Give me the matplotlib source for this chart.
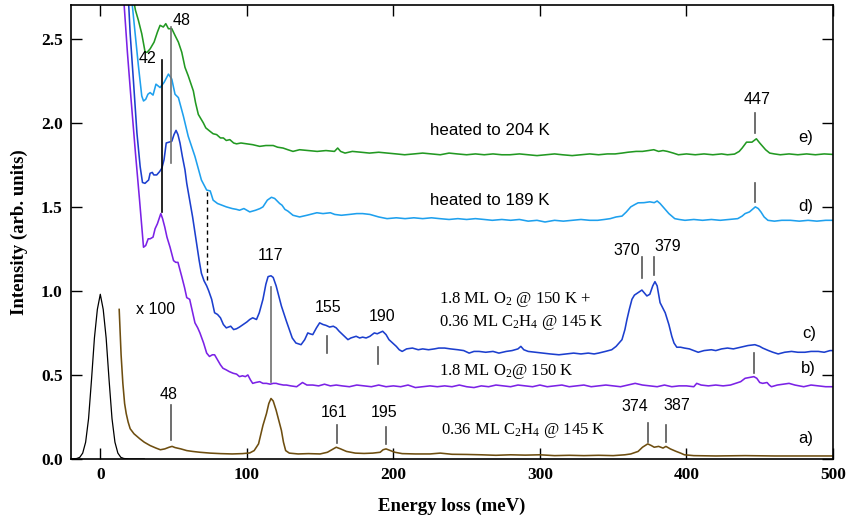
import numpy as np
import matplotlib
matplotlib.use('Agg')
import matplotlib.pyplot as plt

plt.rcParams['mathtext.fontset'] = 'custom'
plt.rcParams['mathtext.rm'] = 'Liberation Serif'
plt.rcParams['mathtext.it'] = 'Liberation Serif:italic'

SANS = 'Liberation Sans'
SERIF = 'Liberation Serif'

# elastic peak
el_x = [-20, -16, -14, -12, -10, -8, -6, -4, -2, 0, 2, 4, 6, 8, 10, 12, 14, 16, 20, 30]
el_y = [0.0, 0.003, 0.01, 0.035, 0.10, 0.24, 0.47, 0.72, 0.89, 0.98, 0.89, 0.72, 0.47, 0.24, 0.10, 0.035, 0.01, 0.003, 0.0, 0.0]

# a) 0.36 ML C2H4 @ 145 K (x 100)
a_x = [12.9, 14.2, 15.4, 16.6, 17.7, 19, 20.4, 23, 27, 30, 34, 38, 41, 44, 47, 49, 51, 55, 59, 63, 68, 75, 82, 90,
       97, 102, 105, 108, 111, 113.4, 115, 116.5, 118, 120, 121.5, 123.6, 125, 126.5, 129, 135, 142, 150, 155, 158,
       161, 164, 168, 174, 180, 186, 191, 193, 195, 198, 201, 206, 215, 225, 232, 240, 250, 260, 270, 280, 290, 300,
       310, 320, 330, 340, 350, 358, 362, 367, 370, 373.6, 376, 378, 381, 384, 386, 389, 393, 396, 398.6, 405, 420,
       440, 460, 480, 500]
a_y = [0.89, 0.62, 0.45, 0.33, 0.27, 0.22, 0.18, 0.15, 0.12, 0.10, 0.08, 0.065, 0.055, 0.06, 0.07, 0.075, 0.068, 0.06,
       0.05, 0.045, 0.04, 0.035, 0.032, 0.03, 0.032, 0.036, 0.05, 0.09, 0.2, 0.27, 0.33, 0.36, 0.345, 0.29, 0.24, 0.17,
       0.1, 0.05, 0.035, 0.03, 0.032, 0.03, 0.04, 0.055, 0.07, 0.06, 0.045, 0.035, 0.033, 0.035, 0.04, 0.055, 0.06,
       0.05, 0.04, 0.032, 0.03, 0.03, 0.035, 0.028, 0.027, 0.025, 0.022, 0.025, 0.023, 0.025, 0.02, 0.022, 0.02,
       0.022, 0.02, 0.025, 0.03, 0.045, 0.07, 0.09, 0.08, 0.07, 0.075, 0.065, 0.075, 0.06, 0.045, 0.035, 0.025, 0.02,
       0.018, 0.02, 0.018, 0.018, 0.018]

# b) 1.8 ML O2 @ 150 K
b_x = [15.5, 16.3, 18.5, 21, 24, 26.8, 28.5, 29.5, 31, 32.7, 34, 36, 37.4, 39, 40.5, 41.3, 42.5, 44, 45.5, 47.6, 50,
       51.5, 53, 55.6, 57.5, 59, 60, 61, 62.8, 64.6, 66.5, 68, 70.5, 72.6, 74.5, 76.5, 78, 80, 82, 83.7, 86, 88, 90.7,
       93, 95, 97, 99, 100.7, 102.5, 104, 106, 108.8, 111, 113.4, 116, 118, 120, 122, 125, 127, 130, 134, 138, 141,
       145, 149, 153, 157, 161, 165, 170, 175, 180, 185, 190, 195, 200, 205, 210, 215, 220, 225, 230, 235, 240, 245,
       250, 255, 260, 265, 270, 275, 280, 285, 290, 295, 300, 305, 310, 315, 320, 325, 330, 335, 340, 345, 350, 355,
       360, 365, 370, 375, 380, 385, 390, 395, 400, 405, 407, 410, 415, 420, 425, 430, 433.6, 437, 440, 443, 446, 448,
       450, 452, 455, 456.5, 458, 462, 466, 470, 474, 480, 485, 490, 495, 500]
b_y = [2.8, 2.7, 2.42, 2.14, 1.82, 1.54, 1.36, 1.26, 1.27, 1.31, 1.31, 1.32, 1.37, 1.40, 1.44, 1.46, 1.43, 1.38, 1.32,
       1.26, 1.18, 1.17, 1.17, 1.085, 1.02, 0.96, 0.955, 0.95, 0.88, 0.81, 0.78, 0.75, 0.69, 0.63, 0.61, 0.62, 0.62,
       0.59, 0.56, 0.54, 0.53, 0.52, 0.51, 0.505, 0.49, 0.495, 0.49, 0.50, 0.47, 0.45, 0.455, 0.46, 0.45, 0.45, 0.445,
       0.45, 0.45, 0.445, 0.44, 0.44, 0.435, 0.43, 0.455, 0.44, 0.44, 0.435, 0.445, 0.435, 0.44, 0.435, 0.43, 0.44,
       0.435, 0.43, 0.44, 0.43, 0.435, 0.43, 0.44, 0.425, 0.43, 0.435, 0.43, 0.435, 0.43, 0.44, 0.43, 0.425, 0.435,
       0.43, 0.44, 0.435, 0.43, 0.44, 0.435, 0.43, 0.44, 0.43, 0.435, 0.44, 0.43, 0.435, 0.44, 0.43, 0.435, 0.44,
       0.435, 0.43, 0.44, 0.45, 0.44, 0.435, 0.43, 0.44, 0.43, 0.435, 0.435, 0.43, 0.45, 0.44, 0.435, 0.44, 0.435,
       0.44, 0.45, 0.46, 0.48, 0.485, 0.49, 0.48, 0.455, 0.45, 0.455, 0.44, 0.43, 0.44, 0.445, 0.45, 0.44, 0.43,
       0.44, 0.435, 0.43, 0.43]

# c) 1.8 ML O2 + 0.36 ML C2H4
c_x = [18.5, 19.4, 20.4, 22.7, 25, 27.2, 28.8, 30.5, 31.7, 33, 34, 35.5, 36.5, 38.5, 40.5, 42, 43.5, 45, 47, 48.8,
       50.3, 51.7, 53, 54.4, 56, 57.8, 59, 61, 63, 65.8, 67.5, 69, 70.8, 72.6, 74, 76, 78, 80, 82, 84, 86, 87.5, 89,
       91, 93, 95, 97.5, 100, 102, 104, 106.6, 108.5, 111, 113, 114.5, 116.5, 118, 120, 121.5, 123.6, 125.5, 127,
       129, 131, 133.5, 137, 139.5, 141.6, 143, 145, 147.5, 149.7, 152, 154, 156.5, 159, 161, 163, 166, 169, 171,
       174.6, 177, 179, 181.4, 184, 187, 189, 192.7, 195, 197, 199.5, 202, 204, 206, 209, 213, 217, 220, 224, 228,
       231, 235, 239, 244, 248, 251.7, 255, 258.5, 263, 268, 272, 277, 281, 285, 287, 289, 292, 297, 302, 307, 313,
       318, 323, 328, 333, 337, 340, 344.7, 349, 352, 356, 358, 359.4, 361, 362.8, 364.5, 367, 369.6, 371.5, 373,
       375, 377, 378.5, 380, 382, 385.5, 388, 390, 391.5, 393.4, 396, 398.6, 402, 405, 408, 412, 417, 420, 424, 428,
       432, 437, 442, 446.7, 450, 452, 456, 459, 462.6, 467, 471.7, 476, 480.8, 485, 490, 494, 498, 500]
c_y = [2.8, 2.7, 2.53, 2.24, 1.94, 1.74, 1.645, 1.64, 1.65, 1.66, 1.70, 1.705, 1.69, 1.69, 1.71, 1.73, 1.78, 1.88,
       1.885, 1.89, 1.93, 1.955, 1.93, 1.88, 1.80, 1.72, 1.64, 1.54, 1.44, 1.28, 1.18, 1.105, 1.06, 1.03, 1.00, 0.95,
       0.87, 0.86, 0.84, 0.80, 0.78, 0.785, 0.79, 0.77, 0.775, 0.785, 0.80, 0.815, 0.83, 0.84, 0.83, 0.87, 0.95, 1.04,
       1.085, 1.09, 1.08, 1.03, 0.98, 0.91, 0.86, 0.82, 0.77, 0.72, 0.69, 0.68, 0.71, 0.75, 0.745, 0.74, 0.78, 0.81,
       0.80, 0.795, 0.785, 0.79, 0.78, 0.76, 0.735, 0.71, 0.72, 0.73, 0.72, 0.725, 0.72, 0.73, 0.75, 0.745, 0.76,
       0.74, 0.71, 0.69, 0.67, 0.65, 0.64, 0.655, 0.66, 0.65, 0.655, 0.65, 0.655, 0.66, 0.66, 0.655, 0.65, 0.645,
       0.63, 0.64, 0.64, 0.635, 0.64, 0.63, 0.64, 0.645, 0.655, 0.67, 0.65, 0.64, 0.635, 0.63, 0.625, 0.62, 0.625,
       0.63, 0.625, 0.63, 0.625, 0.63, 0.64, 0.65, 0.67, 0.71, 0.77, 0.83, 0.89, 0.95, 0.975, 0.99, 1.005, 0.985,
       0.97, 0.98, 1.03, 1.055, 1.03, 0.93, 0.87, 0.80, 0.73, 0.69, 0.665, 0.665, 0.66, 0.655, 0.645, 0.635, 0.645,
       0.65, 0.645, 0.655, 0.66, 0.655, 0.665, 0.675, 0.68, 0.67, 0.66, 0.645, 0.635, 0.625, 0.635, 0.64, 0.635,
       0.635, 0.64, 0.64, 0.635, 0.645, 0.645]

# d) heated to 189 K
d_x = [20.8, 21.5, 23.8, 26, 28.3, 29.5, 31, 32.5, 34, 36, 38, 40.8, 43.5, 46.5, 48.8, 51, 53.3, 56.7, 60, 64.6, 69,
       72.6, 75, 77, 80, 83, 86, 90, 93, 95, 98, 102, 106, 109, 111, 114, 116.8, 119, 122.4, 124, 126, 128, 131.5,
       136, 141, 147.8, 152, 157, 160, 164.5, 170, 175, 179, 184, 190, 195.7, 202, 208, 214, 220, 226, 231.6, 238,
       244, 250, 256, 262, 267.5, 274, 280, 286, 292, 298, 303.5, 310, 316, 322, 328, 334, 339.4, 344, 348, 352,
       356, 359, 362, 365, 367, 371, 375, 378, 380, 382, 385, 388, 392, 395, 399, 405, 411, 417, 423, 429, 435, 438,
       440, 443, 447, 449, 450.8, 453, 455.6, 460, 465, 471, 477, 483, 489, 495, 500]
d_y = [2.8, 2.73, 2.53, 2.34, 2.16, 2.13, 2.14, 2.17, 2.18, 2.165, 2.23, 2.21, 2.24, 2.29, 2.26, 2.17, 2.15, 2.04,
       1.92, 1.80, 1.66, 1.60, 1.595, 1.54, 1.52, 1.51, 1.50, 1.49, 1.485, 1.48, 1.49, 1.47, 1.48, 1.49, 1.50, 1.54,
       1.557, 1.55, 1.52, 1.51, 1.485, 1.475, 1.45, 1.44, 1.45, 1.465, 1.46, 1.465, 1.455, 1.45, 1.455, 1.46, 1.46,
       1.455, 1.44, 1.43, 1.435, 1.43, 1.435, 1.43, 1.435, 1.43, 1.425, 1.43, 1.425, 1.43, 1.425, 1.42, 1.425, 1.42,
       1.425, 1.415, 1.42, 1.41, 1.42, 1.415, 1.42, 1.425, 1.42, 1.42, 1.425, 1.43, 1.44, 1.445, 1.47, 1.50, 1.515,
       1.524, 1.525, 1.53, 1.525, 1.535, 1.52, 1.49, 1.46, 1.43, 1.425, 1.42, 1.425, 1.42, 1.425, 1.42, 1.425, 1.43,
       1.445, 1.46, 1.47, 1.50, 1.49, 1.47, 1.44, 1.42, 1.415, 1.42, 1.42, 1.415, 1.42, 1.415, 1.42, 1.42]

# e) heated to 204 K
e_x = [22.3, 24, 26, 28.3, 30.6, 32, 34, 36.7, 39, 40.8, 43, 44.7, 46.5, 48.8, 51, 53.3, 55.6, 57.8, 60, 63.5, 65,
       66.9, 70.3, 72, 74.8, 77, 79.4, 82, 84, 86, 88.4, 91, 93, 96, 100, 104, 108.8, 113, 118, 121, 124.7, 128,
       131.5, 136, 142, 148, 154, 159.8, 162, 164, 167, 172, 178, 183.7, 190, 196, 202, 207.7, 214, 220, 226, 232,
       238, 243.6, 250, 256, 262, 268, 274, 279.5, 286, 292, 298, 304, 310, 315.4, 322, 328, 334, 340, 346, 351.3,
       356, 360, 365.7, 370, 374, 377.7, 381, 384, 387, 391, 394.5, 400, 406, 412, 418, 424, 428, 432.8, 436, 438,
       441, 444.7, 447.7, 450, 452, 454, 456.8, 460, 464, 470, 476, 482, 488, 494, 500]
e_y = [2.75, 2.67, 2.61, 2.53, 2.42, 2.42, 2.44, 2.48, 2.54, 2.58, 2.57, 2.59, 2.56, 2.56, 2.52, 2.48, 2.42, 2.33,
       2.28, 2.19, 2.12, 2.05, 2.00, 1.97, 1.95, 1.935, 1.93, 1.91, 1.91, 1.895, 1.90, 1.88, 1.875, 1.88, 1.875, 1.87,
       1.86, 1.865, 1.865, 1.855, 1.85, 1.84, 1.83, 1.84, 1.835, 1.83, 1.835, 1.83, 1.85, 1.83, 1.82, 1.83, 1.825,
       1.82, 1.825, 1.82, 1.815, 1.81, 1.815, 1.82, 1.815, 1.81, 1.82, 1.815, 1.81, 1.815, 1.81, 1.815, 1.81, 1.81,
       1.815, 1.81, 1.805, 1.81, 1.815, 1.81, 1.805, 1.81, 1.815, 1.81, 1.815, 1.815, 1.82, 1.825, 1.83, 1.83, 1.835,
       1.84, 1.83, 1.835, 1.83, 1.82, 1.81, 1.815, 1.81, 1.815, 1.81, 1.815, 1.81, 1.814, 1.83, 1.85, 1.885, 1.885,
       1.905, 1.88, 1.86, 1.84, 1.82, 1.815, 1.81, 1.815, 1.81, 1.815, 1.81, 1.815, 1.812]

# peak markers: (x, y_bottom, y_top, colour, label, label x, label y)
markers = [
    (48.1, 1.76, 2.57, '#707070', '48', 55.5, 2.61),
    (42.2, 1.47, 2.375, 'black', '42', 32.5, 2.38),
    (116.8, 0.46, 1.025, '#707070', '117', 116.2, 1.21),
    (154.9, 0.63, 0.73, '#555555', '155', 155.2, 0.90),
    (189.8, 0.565, 0.668, '#555555', '190', 192.5, 0.85),
    (369.6, 1.075, 1.204, '#555555', '370', 359, 1.24),
    (378.0, 1.095, 1.20, '#555555', '379', 387, 1.265),
    (447.0, 1.937, 2.057, '#555555', '447', 448, 2.14),
    (447.0, 1.53, 1.643, '#555555', None, 0, 0),
    (446.0, 0.513, 0.633, '#555555', None, 0, 0),
    (48.3, 0.113, 0.32, '#555555', '48', 46.3, 0.385),
    (161.4, 0.097, 0.20, '#555555', '161', 159.8, 0.275),
    (195.0, 0.087, 0.19, '#555555', '195', 193.9, 0.275),
    (373.5, 0.103, 0.212, '#555555', '374', 364.6, 0.315),
    (386.0, 0.103, 0.20, '#555555', '387', 393.7, 0.32),
]

fig = plt.figure(figsize=(8.5, 5.17), dpi=100)
ax = fig.add_axes([0.0835, 0.1122, 0.8965, 0.8778])

lw = 1.15
ax.plot(el_x, el_y, color='black', lw=0.9)
ax.plot(a_x, a_y, color='#6e4e10', lw=lw)
ax.plot(b_x, b_y, color='#7b22e6', lw=lw)
ax.plot(c_x, c_y, color='#1c3fce', lw=lw)
ax.plot(d_x, d_y, color='#1ea0ee', lw=lw)
ax.plot(e_x, e_y, color='#229922', lw=lw)

for x, y0, y1, col, lab, tx, ty in markers:
    ax.plot([x, x], [y0, y1], color=col, lw=1.2)
    if lab:
        ax.text(tx, ty, lab, family=SANS, fontsize=11.5, ha='center', va='center')

# dashed marker
ax.plot([73, 73], [1.065, 1.60], color='black', lw=1.0, ls=(0, (3, 2.5)))

ax.text(37.4, 0.89, 'x 100', family=SANS, fontsize=11.5, ha='center', va='center')
ax.text(225.3, 1.954, 'heated to 204 K', family=SANS, fontsize=12.2, ha='left', va='center')
ax.text(225.3, 1.537, 'heated to 189 K', family=SANS, fontsize=12.2, ha='left', va='center')
ax.text(231, 0.95, r'1.8 ML O$_2$ @ 150 K +', family=SERIF, fontsize=12, ha='left', va='center')
ax.text(231, 0.815, r'0.36 ML C$_2$H$_4$ @ 145 K', family=SERIF, fontsize=12, ha='left', va='center')
ax.text(231, 0.52, r'1.8 ML O$_2$@ 150 K', family=SERIF, fontsize=12, ha='left', va='center')
ax.text(232.4, 0.17, r'0.36 ML C$_2$H$_4$ @ 145 K', family=SERIF, fontsize=12, ha='left', va='center')

for lab, tx, ty in [('e)', 481.5, 1.91), ('d)', 481.5, 1.50), ('c)', 484, 0.745),
                    ('b)', 483.5, 0.54), ('a)', 481.7, 0.12)]:
    ax.text(tx, ty, lab, family=SANS, fontsize=12, ha='center', va='center')

ax.set_xlim(-20, 500)
ax.set_ylim(0, 2.7)
ax.set_xticks([0, 100, 200, 300, 400, 500])
ax.set_yticks([0.0, 0.5, 1.0, 1.5, 2.0, 2.5])
ax.set_yticklabels(['0.0', '0.5', '1.0', '1.5', '2.0', '2.5'])
ax.tick_params(direction='in', length=8, width=1, top=True, right=True, pad=6)
for t in ax.get_xticklabels() + ax.get_yticklabels():
    t.set_fontfamily(SERIF)
    t.set_fontweight('bold')
    t.set_fontsize(12.5)
for s in ax.spines.values():
    s.set_linewidth(1.2)

ax.set_xlabel('Energy loss (meV)', family=SERIF, fontweight='bold', fontsize=13.5, labelpad=10)
ax.set_ylabel('Intensity (arb. units)', family=SERIF, fontweight='bold', fontsize=13.5, labelpad=9)

fig.savefig('out.png', dpi=100)
